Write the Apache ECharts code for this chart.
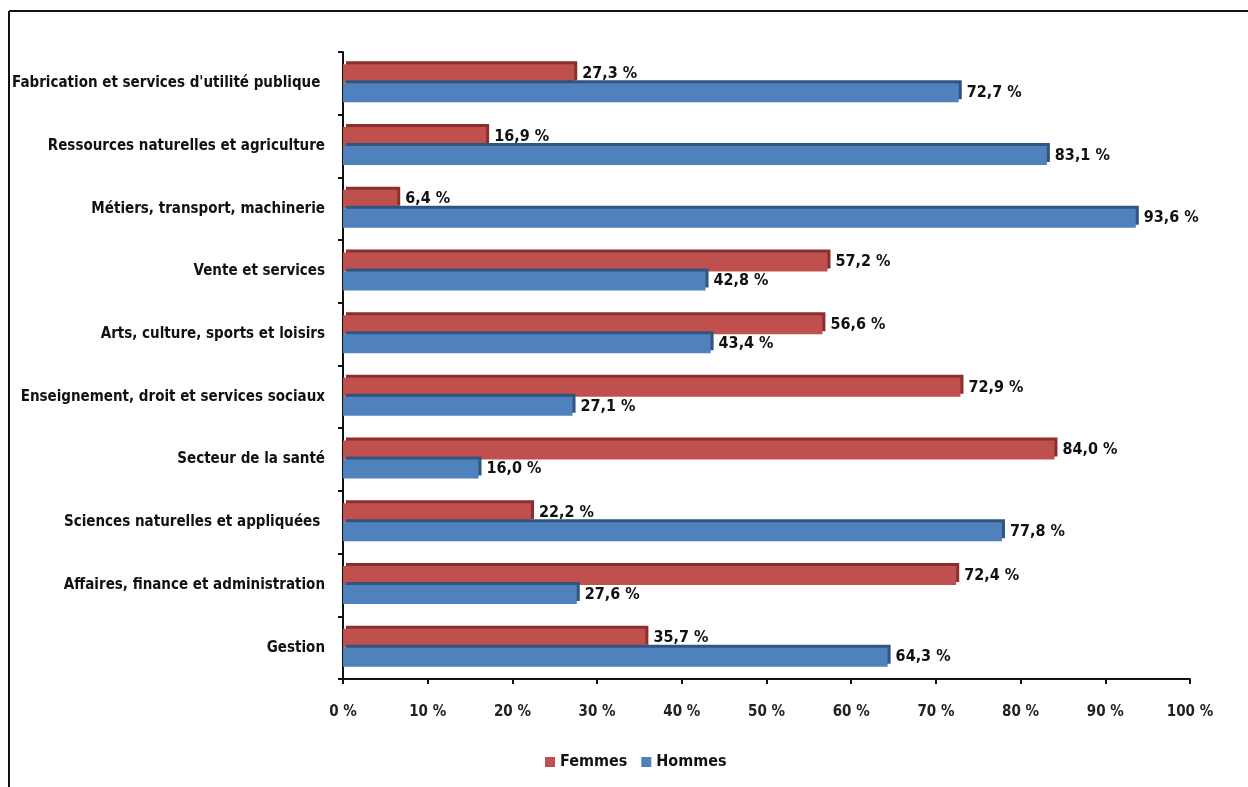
<!DOCTYPE html>
<html>
<head>
<meta charset="utf-8">
<script src="https://cdn.jsdelivr.net/npm/echarts@6/dist/echarts.min.js"></script>
<style>
html,body{margin:0;padding:0;background:#fff;}
#c{width:1248px;height:787px;}
</style>
</head>
<body>
<div id="c"></div>
<script>
const categories = [
  "Gestion",
  "Affaires, finance et administration",
  "Sciences naturelles et appliquées ",
  "Secteur de la santé",
  "Enseignement, droit et services sociaux",
  "Arts, culture, sports et loisirs",
  "Vente et services",
  "Métiers, transport, machinerie",
  "Ressources naturelles et agriculture",
  "Fabrication et services d'utilité publique "
];
const femmes = [35.7, 72.4, 22.2, 84.0, 72.9, 56.6, 57.2, 6.4, 16.9, 27.3];
const hommes = [64.3, 27.6, 77.8, 16.0, 27.1, 43.4, 42.8, 93.6, 83.1, 72.7];
const xTicks = [0, 10, 20, 30, 40, 50, 60, 70, 80, 90, 100];

const FONT = '"DejaVu Sans Condensed", "Liberation Sans Narrow", "Arial Narrow", sans-serif';
const fmt = v => v.toFixed(1).replace('.', ',') + ' %';

const chart = echarts.init(document.getElementById('c'), null, {renderer: 'canvas'});
chart.setOption({
  animation: false,
  backgroundColor: '#fff',
  textStyle: {fontFamily: FONT},
  graphic: [
    {type: 'line', shape: {x1: 9, y1: 11, x2: 1248, y2: 11}, style: {stroke: '#111', lineWidth: 2}},
    {type: 'line', shape: {x1: 9, y1: 11, x2: 9, y2: 787}, style: {stroke: '#111', lineWidth: 2}}
  ],
  grid: {left: 343, right: 58, top: 52, bottom: 108, containLabel: false, outerBoundsMode: 'none'},
  legend: {
    bottom: 12, left: 540,
    itemWidth: 10, itemHeight: 10, itemGap: 14, icon: 'rect',
    textStyle: {fontFamily: FONT, fontSize: 16, fontWeight: 'bold', color: '#111'},
    data: ['Femmes', 'Hommes']
  },
  xAxis: {
    type: 'value', min: 0, max: 100, interval: 10,
    axisLine: {show: true, lineStyle: {color: '#111', width: 2}},
    axisTick: {show: true, length: 5, lineStyle: {color: '#111', width: 2}},
    splitLine: {show: false},
    axisLabel: {
      margin: 26, fontFamily: FONT, fontSize: 15, fontWeight: 'bold', color: '#222',
      formatter: v => xTicks.includes(v) ? v + ' %' : ''
    }
  },
  yAxis: {
    type: 'category', data: categories,
    axisLine: {show: true, lineStyle: {color: '#111', width: 2}},
    axisTick: {show: true, length: 5, lineStyle: {color: '#111', width: 2}},
    axisLabel: {margin: 18, fontFamily: FONT, fontSize: 15, fontWeight: 'bold', color: '#111'}
  },
  series: [
    {
      name: 'Femmes', type: 'bar', data: femmes, barWidth: 19, barGap: '0%',
      itemStyle: {color: '#C0504D', shadowColor: '#8B2F2C', shadowOffsetX: 3, shadowOffsetY: -3, shadowBlur: 0},
      label: {show: true, position: 'right', distance: 8, formatter: p => fmt(p.value),
        fontFamily: FONT, fontSize: 16, fontWeight: 'bold', color: '#111'}
    },
    {
      name: 'Hommes', type: 'bar', data: hommes, barWidth: 19,
      itemStyle: {color: '#4F81BD', shadowColor: '#30557F', shadowOffsetX: 3, shadowOffsetY: -3, shadowBlur: 0},
      label: {show: true, position: 'right', distance: 8, formatter: p => fmt(p.value),
        fontFamily: FONT, fontSize: 16, fontWeight: 'bold', color: '#111'}
    }
  ]
});
</script>
</body>
</html>
